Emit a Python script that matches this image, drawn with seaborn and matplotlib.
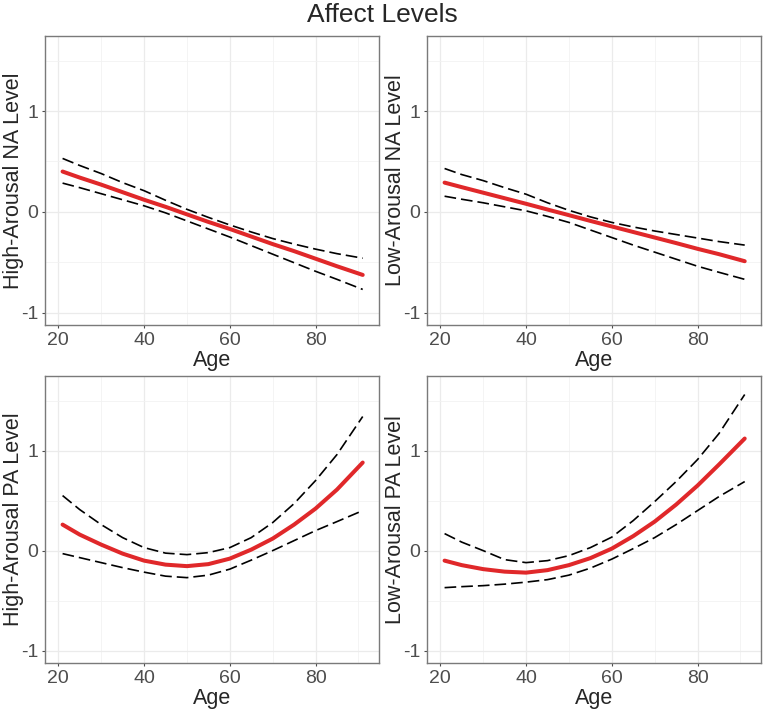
import numpy as np
import pandas as pd
import seaborn as sns
from matplotlib import pyplot as plt

# values
age = [21, 25, 30, 35, 40, 45, 50, 55, 60, 65, 70, 75, 80, 85, 91]

ha_na_fit = [0.40, 0.34, 0.27, 0.195, 0.12, 0.05, -0.025, -0.10, -0.17, -0.245, -0.32, -0.39, -0.465, -0.54, -0.626]
ha_na_hi = [0.53, 0.46, 0.38, 0.29, 0.21, 0.115, 0.025, -0.055, -0.13, -0.20, -0.265, -0.32, -0.37, -0.415, -0.46]
ha_na_lo = [0.285, 0.24, 0.18, 0.12, 0.06, -0.01, -0.09, -0.17, -0.25, -0.335, -0.42, -0.505, -0.59, -0.67, -0.77]

la_na_fit = [0.29, 0.245, 0.19, 0.135, 0.08, 0.023, -0.033, -0.09, -0.145, -0.20, -0.255, -0.31, -0.367, -0.42, -0.49]
la_na_hi = [0.43, 0.37, 0.31, 0.24, 0.175, 0.09, 0.015, -0.05, -0.105, -0.15, -0.19, -0.225, -0.26, -0.295, -0.33]
la_na_lo = [0.155, 0.125, 0.09, 0.05, 0.01, -0.045, -0.105, -0.18, -0.255, -0.33, -0.40, -0.47, -0.54, -0.60, -0.67]

ha_pa_fit = [0.26, 0.16, 0.06, -0.03, -0.10, -0.14, -0.155, -0.135, -0.08, 0.01, 0.12, 0.26, 0.42, 0.61, 0.88]
ha_pa_hi = [0.55, 0.41, 0.26, 0.13, 0.03, -0.025, -0.04, -0.02, 0.03, 0.13, 0.28, 0.47, 0.70, 0.96, 1.34]
ha_pa_lo = [-0.03, -0.07, -0.12, -0.17, -0.215, -0.255, -0.27, -0.245, -0.185, -0.095, 0.00, 0.10, 0.20, 0.29, 0.40]

la_pa_fit = [-0.10, -0.145, -0.185, -0.21, -0.22, -0.195, -0.145, -0.075, 0.02, 0.145, 0.29, 0.46, 0.65, 0.86, 1.12]
la_pa_hi = [0.17, 0.085, 0.00, -0.09, -0.12, -0.10, -0.05, 0.03, 0.135, 0.30, 0.49, 0.69, 0.91, 1.17, 1.56]
la_pa_lo = [-0.37, -0.36, -0.35, -0.335, -0.315, -0.29, -0.245, -0.175, -0.085, 0.02, 0.13, 0.26, 0.40, 0.54, 0.69]

x_ticks = [20, 40, 60, 80]
y_ticks = [-1, 0, 1]
y_tick_labels = ["-1", "0", "1"]

panels = [
    ("High-Arousal NA Level", ha_na_fit, ha_na_lo, ha_na_hi),
    ("Low-Arousal NA Level", la_na_fit, la_na_lo, la_na_hi),
    ("High-Arousal PA Level", ha_pa_fit, ha_pa_lo, ha_pa_hi),
    ("Low-Arousal PA Level", la_pa_fit, la_pa_lo, la_pa_hi),
]

sns.set_style("white")
plt.rcParams["font.family"] = ["Liberation Sans", "DejaVu Sans"]
plt.rcParams["axes.unicode_minus"] = False

W, H = 764, 710
fig = plt.figure(figsize=(W / 100, H / 100), dpi=100)

# axes boxes in pixels: left, right, top, bottom
boxes = [(45, 379, 36, 325), (427, 761, 36, 325), (45, 379, 376, 663), (427, 761, 376, 663)]

for (l, r, t, b), (label, fit, lo, hi) in zip(boxes, panels):
    ax = fig.add_axes([l / W, 1 - b / H, (r - l) / W, (b - t) / H])
    sns.lineplot(x=age, y=hi, ax=ax, color="black", lw=1.2, linestyle=(0, (7, 3)))
    sns.lineplot(x=age, y=lo, ax=ax, color="black", lw=1.2, linestyle=(0, (7, 3)))
    sns.lineplot(x=age, y=fit, ax=ax, color="#E0282A", lw=2.9)

    ax.set_xlim(16.9, 94.8)
    ax.set_ylim(-1.123, 1.745)
    ax.set_xticks(x_ticks)
    ax.set_xticks([30, 50, 70, 90], minor=True)
    ax.set_yticks(y_ticks)
    ax.set_yticklabels(y_tick_labels)
    ax.set_yticks([-0.5, 0.5, 1.5], minor=True)
    ax.set_axisbelow(True)
    ax.grid(which="major", color="#EBEBEB", lw=0.9)
    ax.grid(which="minor", color="#F2F2F2", lw=0.6)
    ax.tick_params(which="major", length=2.5, width=0.8, color="#4D4D4D",
                   labelsize=14, labelcolor="#4D4D4D", pad=2.5, bottom=True, left=True)
    ax.tick_params(which="minor", length=0)
    for sp in ax.spines.values():
        sp.set_color("#7A7A7A")
        sp.set_linewidth(1.0)
    ax.set_xlabel("Age", fontsize=15.5, labelpad=1)
    ax.set_ylabel(label, fontsize=15.5, va="center")
    ax.yaxis.set_label_coords(-31.5 / (r - l), 0.5)

fig.text(0.5, 1 - 15 / H, "Affect Levels", ha="center", va="center", fontsize=19)

fig.savefig("out.png", dpi=100)
